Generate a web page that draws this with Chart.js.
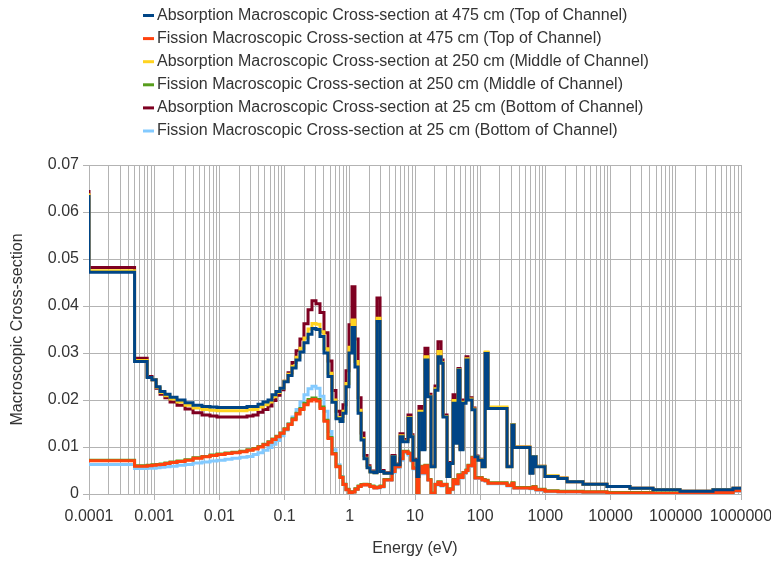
<!DOCTYPE html>
<html>
<head>
<meta charset="utf-8">
<title>Macroscopic Cross-section vs Energy</title>
<script src="https://cdn.jsdelivr.net/npm/chart.js@4.4.1/dist/chart.umd.min.js"></script>
<style>
  html, body { margin: 0; padding: 0; background: #ffffff; }
  #wrap { width: 771px; height: 561px; }
</style>
</head>
<body>
<div id="wrap"><canvas id="chart" width="771" height="561"></canvas></div>
<script>
// Upper energy bound of each group (eV); each value holds over [previous bound, this bound].
const energies = [
  0.0001, 0.0005, 0.00078, 0.000925, 0.00107, 0.00123, 0.00146, 0.00175, 0.00224, 0.00297,
  0.00394, 0.00541, 0.00718, 0.00919, 0.0122, 0.0156, 0.0207, 0.0265, 0.0328, 0.0391,
  0.0466, 0.0557, 0.0641, 0.0738, 0.085, 0.0979, 0.113, 0.13, 0.15, 0.172,
  0.198, 0.229, 0.263, 0.303, 0.349, 0.402, 0.463, 0.533, 0.614, 0.708,
  0.786, 0.874, 0.972, 1.08, 1.2, 1.34, 1.49, 1.65, 1.84, 2.04,
  2.35, 2.61, 2.91, 3.35, 4.44, 4.94, 5.89, 6.55, 7.81, 8.68,
  9.32, 10.7, 11.5, 12.8, 14.2, 15.8, 17.6, 20.3, 22.5, 25.1,
  26.9, 31, 34.4, 38.3, 42.6, 45.7, 49, 54.5, 60.6, 65,
  74.8, 83.2, 92.5, 107, 119, 132, 258, 307, 330, 580,
  645, 717, 986, 1560, 2150, 3770, 8810, 19800, 44700, 116000,
  372000, 754000, 1000000
];

const absorption475 = [
  0.0636, 0.0472, 0.0282, 0.0248, 0.0243, 0.0228, 0.0218, 0.0212, 0.0206, 0.0200,
  0.0194, 0.0189, 0.0186, 0.0185, 0.0184, 0.0184, 0.0184, 0.0184, 0.0186, 0.0186,
  0.0191, 0.0196, 0.0200, 0.0211, 0.0218, 0.0225, 0.0239, 0.0252, 0.0268, 0.0285,
  0.0302, 0.0322, 0.0340, 0.0352, 0.0350, 0.0335, 0.0300, 0.0250, 0.0195, 0.0160,
  0.0154, 0.0172, 0.0228, 0.0300, 0.0354, 0.0270, 0.0172, 0.0115, 0.0075, 0.0056,
  0.0047, 0.0045, 0.0367, 0.0048, 0.0044, 0.0079, 0.0062, 0.0122, 0.0111, 0.0161,
  0.0122, 0.0072, 0.0037, 0.0172, 0.0094, 0.0285, 0.0207, 0.0058, 0.0221, 0.0292,
  0.0278, 0.0164, 0.0037, 0.0065, 0.0193, 0.0108, 0.0264, 0.0094, 0.0193, 0.0285,
  0.0200, 0.0179, 0.0079, 0.0072, 0.0058, 0.0299, 0.0182, 0.0058, 0.0147, 0.0099,
  0.0044, 0.0079, 0.0058, 0.0037, 0.0033, 0.0026, 0.0021, 0.0016, 0.0012, 0.0009,
  0.0006, 0.0009, 0.0012
];

const fission475 = [
  0.0073, 0.0071, 0.0059, 0.0060, 0.0061, 0.0062, 0.0063, 0.0065, 0.0067, 0.0069,
  0.0072, 0.0076, 0.0079, 0.0082, 0.0084, 0.0086, 0.0088, 0.0090, 0.0093, 0.0096,
  0.0100, 0.0105, 0.0110, 0.0116, 0.0122, 0.0129, 0.0138, 0.0148, 0.0158, 0.0170,
  0.0180, 0.0190, 0.0198, 0.0201, 0.0198, 0.0182, 0.0155, 0.0118, 0.0085, 0.0058,
  0.0035, 0.0020, 0.0009, 0.0002, 0.0004, 0.0010, 0.0016, 0.0019, 0.0020, 0.0019,
  0.0016, 0.0013, 0.0014, 0.0016, 0.0030, 0.0048, 0.0058, 0.0075, 0.0090, 0.0086,
  0.0072, 0.0055, 0.0002, 0.0058, 0.0045, 0.0060, 0.0030, 0.0001, 0.0020, 0.0025,
  0.0018, 0.0020, 0.0003, 0.0010, 0.0030, 0.0022, 0.0040, 0.0035, 0.0045, 0.0050,
  0.0060, 0.0077, 0.0034, 0.0034, 0.0030, 0.0028, 0.0023, 0.0018, 0.0023, 0.0013,
  0.0012, 0.0015, 0.0009, 0.0006, 0.0005, 0.0005, 0.0004, 0.0002, 0.0002, 0.0001,
  0.0002, 0.0003, 0.0007
];

const absorption250 = [
  0.0640, 0.0475, 0.0284, 0.0248, 0.0243, 0.0227, 0.0216, 0.0209, 0.0202, 0.0196,
  0.0189, 0.0183, 0.0180, 0.0178, 0.0177, 0.0177, 0.0177, 0.0177, 0.0179, 0.0180,
  0.0185, 0.0190, 0.0196, 0.0207, 0.0216, 0.0225, 0.0240, 0.0255, 0.0272, 0.0291,
  0.0310, 0.0332, 0.0351, 0.0363, 0.0361, 0.0345, 0.0309, 0.0257, 0.0200, 0.0163,
  0.0156, 0.0176, 0.0235, 0.0312, 0.0370, 0.0282, 0.0178, 0.0118, 0.0076, 0.0057,
  0.0047, 0.0045, 0.0374, 0.0048, 0.0044, 0.0080, 0.0062, 0.0124, 0.0112, 0.0163,
  0.0123, 0.0072, 0.0037, 0.0176, 0.0095, 0.0292, 0.0208, 0.0058, 0.0224, 0.0303,
  0.0280, 0.0165, 0.0037, 0.0065, 0.0199, 0.0109, 0.0265, 0.0095, 0.0195, 0.0288,
  0.0202, 0.0181, 0.0080, 0.0073, 0.0058, 0.0302, 0.0185, 0.0058, 0.0148, 0.0100,
  0.0045, 0.0080, 0.0059, 0.0039, 0.0034, 0.0026, 0.0021, 0.0016, 0.0012, 0.0009,
  0.0006, 0.0009, 0.0012
];

const fission250 = [
  0.0074, 0.0072, 0.0060, 0.0061, 0.0062, 0.0063, 0.0064, 0.0066, 0.0068, 0.0070,
  0.0073, 0.0077, 0.0080, 0.0083, 0.0085, 0.0087, 0.0089, 0.0091, 0.0094, 0.0097,
  0.0101, 0.0106, 0.0111, 0.0117, 0.0123, 0.0130, 0.0139, 0.0149, 0.0160, 0.0172,
  0.0182, 0.0193, 0.0201, 0.0204, 0.0201, 0.0185, 0.0157, 0.0120, 0.0086, 0.0059,
  0.0036, 0.0021, 0.0010, 0.0003, 0.0005, 0.0011, 0.0017, 0.0020, 0.0021, 0.0020,
  0.0017, 0.0014, 0.0015, 0.0017, 0.0031, 0.0049, 0.0059, 0.0076, 0.0091, 0.0087,
  0.0073, 0.0056, 0.0003, 0.0059, 0.0046, 0.0061, 0.0031, 0.0002, 0.0021, 0.0026,
  0.0019, 0.0021, 0.0004, 0.0011, 0.0031, 0.0023, 0.0041, 0.0036, 0.0046, 0.0051,
  0.0061, 0.0078, 0.0035, 0.0035, 0.0031, 0.0029, 0.0024, 0.0019, 0.0024, 0.0014,
  0.0013, 0.0016, 0.0010, 0.0007, 0.0006, 0.0006, 0.0005, 0.0003, 0.0003, 0.0002,
  0.0003, 0.0004, 0.0008
];

const absorption25 = [
  0.0647, 0.0482, 0.0289, 0.0250, 0.0243, 0.0225, 0.0212, 0.0205, 0.0196, 0.0189,
  0.0181, 0.0173, 0.0168, 0.0166, 0.0164, 0.0164, 0.0164, 0.0164, 0.0166, 0.0168,
  0.0174, 0.0180, 0.0187, 0.0199, 0.0210, 0.0222, 0.0240, 0.0258, 0.0280, 0.0305,
  0.0330, 0.0362, 0.0392, 0.0411, 0.0405, 0.0386, 0.0343, 0.0283, 0.0220, 0.0176,
  0.0165, 0.0190, 0.0262, 0.0360, 0.0441, 0.0330, 0.0205, 0.0130, 0.0082, 0.0060,
  0.0049, 0.0046, 0.0417, 0.0050, 0.0045, 0.0082, 0.0064, 0.0128, 0.0116, 0.0168,
  0.0126, 0.0074, 0.0038, 0.0186, 0.0097, 0.0310, 0.0212, 0.0060, 0.0230, 0.0324,
  0.0285, 0.0168, 0.0038, 0.0067, 0.0211, 0.0111, 0.0267, 0.0097, 0.0200, 0.0292,
  0.0205, 0.0183, 0.0081, 0.0074, 0.0059, 0.0300, 0.0182, 0.0059, 0.0148, 0.0100,
  0.0045, 0.0080, 0.0059, 0.0038, 0.0034, 0.0026, 0.0021, 0.0016, 0.0012, 0.0009,
  0.0006, 0.0009, 0.0012
];

const fission25 = [
  0.0064, 0.0063, 0.0054, 0.0055, 0.0055, 0.0056, 0.0057, 0.0058, 0.0059, 0.0061,
  0.0063, 0.0066, 0.0068, 0.0070, 0.0072, 0.0074, 0.0076, 0.0078, 0.0080, 0.0084,
  0.0088, 0.0093, 0.0099, 0.0106, 0.0114, 0.0124, 0.0136, 0.0149, 0.0164, 0.0180,
  0.0196, 0.0211, 0.0224, 0.0229, 0.0225, 0.0208, 0.0176, 0.0133, 0.0094, 0.0062,
  0.0037, 0.0021, 0.0009, 0.0002, 0.0004, 0.0010, 0.0016, 0.0019, 0.0020, 0.0019,
  0.0016, 0.0013, 0.0013, 0.0015, 0.0029, 0.0046, 0.0056, 0.0072, 0.0088, 0.0083,
  0.0070, 0.0053, 0.0002, 0.0056, 0.0043, 0.0058, 0.0029, 0.0001, 0.0019, 0.0024,
  0.0017, 0.0019, 0.0003, 0.0009, 0.0029, 0.0021, 0.0039, 0.0034, 0.0044, 0.0049,
  0.0059, 0.0075, 0.0033, 0.0033, 0.0029, 0.0027, 0.0022, 0.0017, 0.0022, 0.0012,
  0.0011, 0.0014, 0.0008, 0.0005, 0.0004, 0.0004, 0.0003, 0.0001, 0.0001, 0.0000,
  0.0001, 0.0002, 0.0006
];

const seriesLabels = [
  'Absorption Macroscopic Cross-section at 475 cm (Top of Channel)',
  'Fission Macroscopic Cross-section at 475 cm (Top of Channel)',
  'Absorption Macroscopic Cross-section at 250 cm (Middle of Channel)',
  'Fission Macroscopic Cross-section at 250 cm (Middle of Channel)',
  'Absorption Macroscopic Cross-section at 25 cm (Bottom of Channel)',
  'Fission Macroscopic Cross-section at 25 cm (Bottom of Channel)'
];

const seriesColors = ['#004586', '#ff420e', '#ffd320', '#579d1c', '#7e0021', '#83caff'];

const energyTickLabels = ['0.0001', '0.001', '0.01', '0.1', '1', '10', '100', '1000', '10000', '100000', '1000000'];

const xAxisTitle = 'Energy (eV)';
const yAxisTitle = 'Macroscopic Cross-section';

const FONT_FAMILY = "'Liberation Sans', Arial, sans-serif";
const TEXT_COLOR = '#333333';
const GRID_COLOR = '#b3b3b3';

const seriesValues = [absorption475, fission475, absorption250, fission250, absorption25, fission25];

function toPoints(values) {
  return energies.map((e, i) => ({ x: e, y: values[i] }));
}

// Decade exponent of a value, or null when it is not a power of ten.
function decadeOf(v) {
  const l = Math.log10(v);
  const r = Math.round(l);
  return Math.abs(l - r) < 1e-6 ? r : null;
}

const datasets = seriesValues.map((vals, i) => ({
  label: seriesLabels[i],
  data: toPoints(vals),
  borderColor: seriesColors[i],
  backgroundColor: seriesColors[i],
  borderWidth: 3,
  pointRadius: 0,
  pointHoverRadius: 0,
  stepped: 'after',
  fill: false,
  tension: 0
}));

// Legend drawn as a left-aligned column above the plot.
const columnLegend = {
  id: 'columnLegend',
  afterDraw(chart) {
    const ctx = chart.ctx;
    ctx.save();
    ctx.font = '16px ' + FONT_FAMILY;
    ctx.textBaseline = 'middle';
    ctx.textAlign = 'left';
    chart.data.datasets.forEach((ds, i) => {
      const y = 15.5 + i * 23.1;
      ctx.strokeStyle = ds.borderColor;
      ctx.lineWidth = 3;
      ctx.beginPath();
      ctx.moveTo(143, y);
      ctx.lineTo(154, y);
      ctx.stroke();
      ctx.fillStyle = TEXT_COLOR;
      ctx.fillText(ds.label, 157, y);
    });
    ctx.restore();
  }
};

new Chart(document.getElementById('chart'), {
  type: 'line',
  data: { datasets },
  plugins: [columnLegend],
  options: {
    responsive: false,
    devicePixelRatio: 1,
    animation: false,
    events: [],
    layout: { padding: { top: 165, right: 30, bottom: 0, left: 0 } },
    plugins: {
      legend: { display: false },
      tooltip: { enabled: false },
      title: { display: false }
    },
    scales: {
      x: {
        type: 'logarithmic',
        min: 0.0001,
        max: 1000000,
        afterBuildTicks(scale) {
          const ticks = [];
          for (let n = -4; n < 6; n++) {
            for (let k = 1; k <= 9; k++) {
              ticks.push({ value: Number((k * Math.pow(10, n)).toPrecision(6)) });
            }
          }
          ticks.push({ value: 1000000 });
          scale.ticks = ticks;
        },
        afterFit(scale) {
          scale.height = 67;
          scale.paddingLeft = 0;
          scale.paddingRight = 0;
        },
        border: { display: true, color: GRID_COLOR, width: 1 },
        grid: {
          color: GRID_COLOR,
          lineWidth: 1,
          drawTicks: true,
          tickLength: 6,
          tickColor: (c) => (c.tick && decadeOf(c.tick.value) !== null) ? GRID_COLOR : 'rgba(0,0,0,0)'
        },
        ticks: {
          autoSkip: false,
          maxRotation: 0,
          minRotation: 0,
          padding: 7,
          color: TEXT_COLOR,
          font: { family: FONT_FAMILY, size: 16 },
          callback: (value) => {
            const d = decadeOf(value);
            return d === null ? '' : energyTickLabels[d + 4];
          }
        },
        title: {
          display: true,
          text: xAxisTitle,
          color: TEXT_COLOR,
          font: { family: FONT_FAMILY, size: 16 },
          padding: { top: 0, bottom: 3 }
        }
      },
      y: {
        type: 'linear',
        min: 0,
        max: 0.07,
        afterFit(scale) {
          scale.width = 89;
          scale.paddingTop = 0;
          scale.paddingBottom = 0;
        },
        border: { display: true, color: GRID_COLOR, width: 1 },
        grid: { color: GRID_COLOR, lineWidth: 1, drawTicks: true, tickLength: 6, tickColor: GRID_COLOR },
        ticks: {
          stepSize: 0.01,
          padding: 4,
          color: TEXT_COLOR,
          font: { family: FONT_FAMILY, size: 16 },
          callback: (value) => String(Number(value.toFixed(2)))
        },
        title: {
          display: true,
          text: yAxisTitle,
          color: TEXT_COLOR,
          font: { family: FONT_FAMILY, size: 16 },
          padding: { top: 8, bottom: 0 }
        }
      }
    }
  }
});
</script>
</body>
</html>
